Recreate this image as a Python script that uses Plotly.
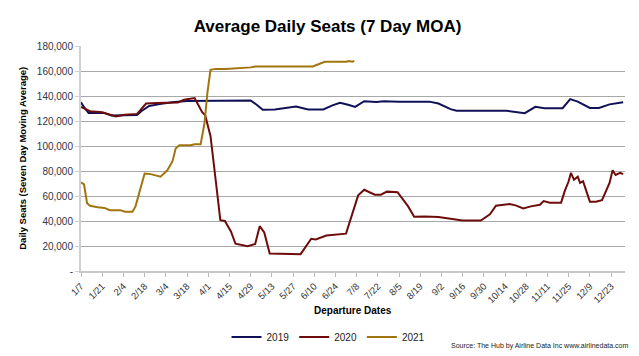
import pandas as pd
import plotly.graph_objects as go

# Days since Jan 7 (x) and daily seats (7-day moving average)
days_2019 = [0, 2, 5, 15, 20, 37, 40, 45, 52, 60, 70, 100, 103, 112, 116, 120, 128, 135, 142, 150,
             160, 166, 171, 177, 181, 187, 195, 200, 210, 230, 236, 244, 248, 281, 290, 293, 300,
             306, 318, 323, 328, 336, 342, 349, 358]
seats_2019 = [135000, 131000, 126500, 126500, 124500, 124800, 128000, 132000, 133500, 135000,
              136000, 136000, 136500, 136500, 133000, 129000, 129300, 130500, 131500, 129300,
              129300, 132500, 134500, 132800, 131300, 135800, 135200, 135800, 135500, 135500,
              134000, 129500, 128200, 128200, 127000, 126300, 131300, 130200, 130300, 137500,
              135500, 130500, 130500, 133300, 135000]

days_2020 = [0, 6, 14, 23, 29, 37, 43, 50, 64, 68, 75, 77, 80, 82, 85.5, 89, 92, 95, 99, 102,
             110, 115, 118, 121, 124.6, 145, 152, 155, 162, 175, 179.5, 183, 187, 194, 198, 202,
             209, 212, 216, 220, 227, 236, 244, 252, 264, 270, 274, 283, 287, 292, 297, 303,
             305.5, 309.5, 317, 319.5, 322, 323.5, 325.5, 328, 329.5, 331.5, 336, 340, 344, 347,
             349, 351, 353, 356, 358]
seats_2020 = [131300, 127800, 127000, 123700, 125000, 125700, 134000, 134500, 134800, 137000,
              138300, 133300, 127000, 124500, 108000, 72000, 40700, 40000, 31600, 21800,
              19800, 21600, 35900, 30900, 14000, 13500, 25800, 25300, 28400, 29900,
              48000, 60500, 65000, 61000, 61000, 63500, 63000, 58000, 51700, 43400,
              43700, 43200, 41700, 40400, 40400, 45400, 52200, 53500, 52500, 50000,
              51700, 53000, 56000, 54700, 54700, 64300, 71800, 78500, 73000, 75500,
              70500, 71800, 55500, 55500, 56700, 65500, 70500, 80600, 76800, 78500, 77500]

days_2021 = [0, 2, 4, 6, 11, 15.5, 19, 26, 29, 34, 36, 42, 46, 52.5, 57, 60.5, 62.5, 65, 72.5,
             75, 79, 81.5, 83.5, 85.5, 89, 95.5, 112, 115, 153, 161, 175, 177, 179, 180.5]
seats_2021 = [71000, 69300, 54200, 52200, 51000, 50500, 48700, 48700, 47400, 47400, 51700,
              78000, 77500, 75500, 80600, 88000, 98000, 100600, 100600, 101400, 101400,
              118000, 143000, 161000, 161700, 161700, 162900, 163600, 163600, 167400,
              167400, 168000, 167400, 168000]

y_ticks = [0, 20000, 40000, 60000, 80000, 100000, 120000, 140000, 160000, 180000]
y_tick_text = ["-", "20,000", "40,000", "60,000", "80,000", "100,000", "120,000",
               "140,000", "160,000", "180,000"]

base = pd.Timestamp("2019-01-07")


def to_dates(days):
    return [base + pd.Timedelta(days=d) for d in days]


FONT = "Arial, Liberation Sans, sans-serif"
fig = go.Figure()
fig.add_trace(go.Scatter(x=to_dates(days_2019), y=seats_2019, mode="lines", name="2019",
                         line=dict(color="#101058", width=2)))
fig.add_trace(go.Scatter(x=to_dates(days_2020), y=seats_2020, mode="lines", name="2020",
                         line=dict(color="#6E0C0C", width=2)))
fig.add_trace(go.Scatter(x=to_dates(days_2021), y=seats_2021, mode="lines", name="2021",
                         line=dict(color="#A2740F", width=2)))

fig.update_layout(
    width=639, height=356,
    margin=dict(l=73, r=22, t=38, b=79),
    paper_bgcolor="white", plot_bgcolor="white",
    font=dict(family=FONT, size=10, color="#333333"),
    title=dict(text="<b>Average Daily Seats (7 Day MOA)</b>", x=0.5, xref="container",
               y=0.95, yref="container", yanchor="middle",
               font=dict(size=17, color="black", family=FONT)),
    showlegend=True,
    legend=dict(orientation="h", x=0.455, xanchor="center", y=-0.293, yanchor="middle",
                font=dict(size=10, color="#222222"), itemwidth=30, tracegroupgap=0),
)
fig.update_xaxes(
    range=[base, base + pd.Timedelta(days=359.2)],
    tick0=base, dtick=14 * 24 * 3600 * 1000, tickformat="%-m/%-d", tickangle=-45,
    ticks="outside", ticklen=4, tickcolor="#bbbbbb",
    showline=True, linecolor="#c8c8c8", linewidth=2,
    showgrid=False, zeroline=False,
    tickfont=dict(size=9.5, color="#333333"),
)
fig.update_yaxes(
    range=[0, 180000], tickvals=y_ticks, ticktext=y_tick_text,
    showgrid=True, gridcolor="#a8a8a8", gridwidth=1,
    showline=True, linecolor="#d0d0d0", linewidth=2,
    ticks="outside", ticklen=4, tickcolor="#d0d0d0",
    zeroline=False, tickfont=dict(size=10, color="#333344"),
)
fig.add_annotation(text="<b>Daily Seats (Seven Day Moving Average)</b>", textangle=-90,
                   xref="paper", yref="paper", x=-0.108, y=0.5, showarrow=False,
                   xanchor="center", yanchor="middle", font=dict(size=9.5, color="black"))
fig.add_annotation(text="<b>Departure Dates</b>", xref="paper", yref="paper",
                   x=0.5, y=-0.142, showarrow=False, yanchor="top",
                   font=dict(size=10, color="black"))
fig.add_annotation(text="Source: The Hub by Airline Data Inc www.airlinedata.com",
                   xref="paper", yref="paper", x=1.01, y=-0.305, showarrow=False,
                   xanchor="right", yanchor="top", font=dict(size=7, color="#222222"))

fig.write_html("out.html")
